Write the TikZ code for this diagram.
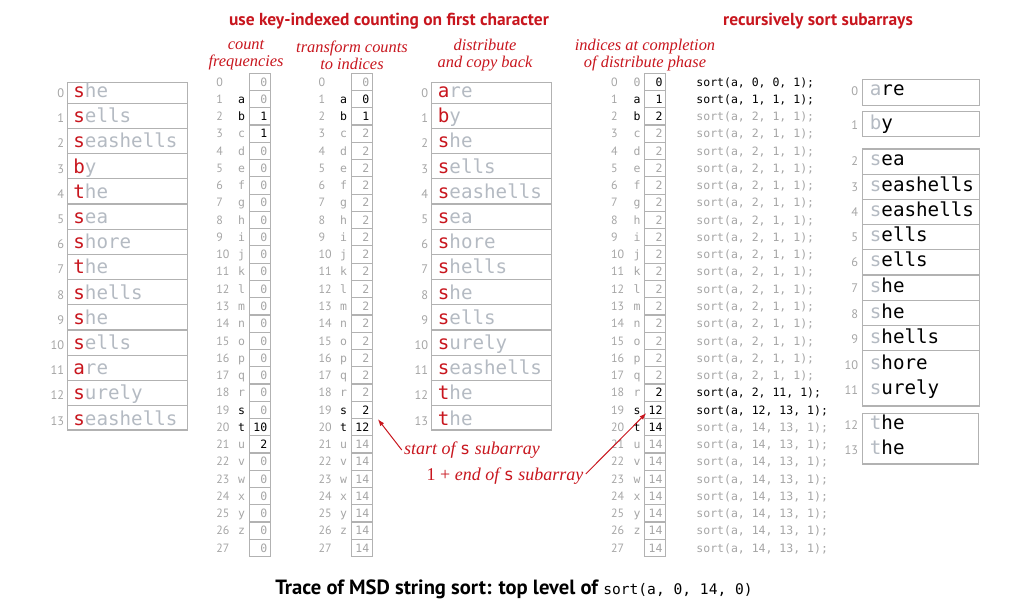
\documentclass[tikz,border=0pt]{standalone}
\usepackage{fontspec}
\setmainfont{Liberation Serif}
\setsansfont{PT Sans}
\setmonofont{DejaVu Sans Mono}
\usetikzlibrary{arrows.meta}

\definecolor{msdred}{RGB}{200,22,30}
\definecolor{fadegray}{RGB}{180,186,194}
\definecolor{idxgray}{RGB}{165,165,165}
\definecolor{boxgray}{RGB}{178,178,178}
\colorlet{gy}{idxgray}
\colorlet{bk}{black}

\tikzset{
  title/.style={font=\sffamily\bfseries\fontsize{8.7}{10}\selectfont, text=msdred, inner sep=0pt},
  colhead/.style={font=\itshape\fontsize{8.2}{8.5}\selectfont, text=msdred, align=center, inner sep=0pt},
  word/.style={font=\ttfamily\fontsize{9.6}{11}\selectfont, anchor=base west, inner sep=0pt},
  aidx/.style={font=\sffamily\fontsize{6.2}{7}\selectfont, text=idxgray, anchor=base east, inner sep=0pt},
  keycell/.style={draw=boxgray, line width=0.6pt, minimum width=10.5pt, minimum height=8.63pt,
    inner sep=0pt, text width=7.5pt, align=right, text height=4.2pt, text depth=0pt,
    font=\ttfamily\fontsize{5.75}{6}\selectfont},
  keyidx/.style={font=\sffamily\fontsize{6}{7}\selectfont, text=idxgray, anchor=west, inner sep=0pt,
    text height=4.2pt, text depth=0pt},
  keyltr/.style={font=\ttfamily\fontsize{5.75}{6}\selectfont, inner sep=0pt, text height=4.2pt, text depth=0pt},
  call/.style={font=\ttfamily\fontsize{5.75}{6}\selectfont, anchor=west, inner sep=0pt,
    text height=4.2pt, text depth=0pt},
  frame/.style={draw=boxgray, line width=0.6pt},
  note/.style={font=\itshape\fontsize{9}{10}\selectfont, text=msdred, inner sep=1pt},
  pointer/.style={draw=msdred, line width=0.5pt, -{Latex[length=3.5pt,width=2.4pt]}},
  caption/.style={font=\sffamily\bfseries\fontsize{10.3}{12}\selectfont, inner sep=0pt},
}

\begin{document}
\begin{tikzpicture}[x=0.5pt, y=-0.5pt]
  \useasboundingbox (0,0) rectangle (1018,613);

  % ==== TITLES ====
  \node[title] (ttlKey) at (389,21) {use key-indexed counting on first character};
  \node[title] (ttlRec) at (818,21) {recursively sort subarrays};

  % ==== COLUMN HEADINGS ====
  \node[colhead] (hCount) at (246,55.5) {count\\frequencies};
  \node[colhead] (hTrans) at (352,55.5) {transform counts\\to indices};
  \node[colhead] (hDist) at (485,55.5) {distribute\\and copy back};
  \node[colhead] (hInd) at (645,55.5) {indices at completion\\of distribute phase};

  % ==== INPUT ARRAY ====
  \draw[frame] (67.3,82.3) rectangle (187.3,430);
  \foreach \k in {0,...,12} \draw[frame] (67.3,103.3+25.2*\k) -- (187.3,103.3+25.2*\k);
  \foreach \fc/\rs [count=\i from 0] in {s/he, s/ells, s/eashells, b/y, t/he, s/ea, s/hore,
      t/he, s/hells, s/he, s/ells, a/re, s/urely, s/eashells} {
    \node[word] (in\i) at (73,97.5+25.2*\i) {\textcolor{msdred}{\fc}\textcolor{fadegray}{\rs}};
    \node[aidx] (inx\i) at (64.5,97.5+25.2*\i) {\i};
  }

  % ==== COUNT FREQUENCIES ====
  \foreach \ch/\v/\lc/\vc [count=\i from 0] in {{}/0/gy/gy, a/0/bk/gy, b/1/bk/bk, c/1/gy/bk,
      d/0/gy/gy, e/0/gy/gy, f/0/gy/gy, g/0/gy/gy, h/0/gy/gy, i/0/gy/gy, j/0/gy/gy, k/0/gy/gy,
      l/0/gy/gy, m/0/gy/gy, n/0/gy/gy, o/0/gy/gy, p/0/gy/gy, q/0/gy/gy, r/0/gy/gy, s/0/bk/gy,
      t/10/bk/bk, u/2/gy/bk, v/0/gy/gy, w/0/gy/gy, x/0/gy/gy, y/0/gy/gy, z/0/gy/gy, {}/0/gy/gy} {
    \node[keycell] (c\i) at (259.7,81.93+17.26*\i) {\textcolor{\vc}{\v}};
    \node[keyidx] (ci\i) at (216,81.93+17.26*\i) {\i};
    \node[keyltr, text=\lc] (cl\i) at (241.7,81.93+17.26*\i) {\ch};
  }

  % ==== TRANSFORM COUNTS TO INDICES ====
  \foreach \ch/\v/\lc/\vc [count=\i from 0] in {{}/0/gy/gy, a/0/bk/bk, b/1/bk/bk, c/2/gy/gy,
      d/2/gy/gy, e/2/gy/gy, f/2/gy/gy, g/2/gy/gy, h/2/gy/gy, i/2/gy/gy, j/2/gy/gy, k/2/gy/gy,
      l/2/gy/gy, m/2/gy/gy, n/2/gy/gy, o/2/gy/gy, p/2/gy/gy, q/2/gy/gy, r/2/gy/gy, s/2/bk/bk,
      t/12/bk/bk, u/14/gy/gy, v/14/gy/gy, w/14/gy/gy, x/14/gy/gy, y/14/gy/gy, z/14/gy/gy, {}/14/gy/gy} {
    \node[keycell] (t\i) at (361.7,81.93+17.26*\i) {\textcolor{\vc}{\v}};
    \node[keyidx] (ti\i) at (318.2,81.93+17.26*\i) {\i};
    \node[keyltr, text=\lc] (tl\i) at (343.5,81.93+17.26*\i) {\ch};
  }

  % ==== DISTRIBUTE AND COPY BACK ====
  \draw[frame] (431.7,82.3) rectangle (551.7,430);
  \foreach \k in {0,...,12} \draw[frame] (431.7,103.3+25.2*\k) -- (551.7,103.3+25.2*\k);
  \foreach \fc/\rs [count=\i from 0] in {a/re, b/y, s/he, s/ells, s/eashells, s/ea, s/hore,
      s/hells, s/he, s/ells, s/urely, s/eashells, t/he, t/he} {
    \node[word] (aux\i) at (437.5,97.5+25.2*\i) {\textcolor{msdred}{\fc}\textcolor{fadegray}{\rs}};
    \node[aidx] (auxx\i) at (428.5,97.5+25.2*\i) {\i};
  }

  % ==== INDICES AFTER DISTRIBUTE ====
  \foreach \ch/\v/\lc/\vc [count=\i from 0] in {0/0/gy/bk, a/1/bk/bk, b/2/bk/bk, c/2/gy/gy,
      d/2/gy/gy, e/2/gy/gy, f/2/gy/gy, g/2/gy/gy, h/2/gy/gy, i/2/gy/gy, j/2/gy/gy, k/2/gy/gy,
      l/2/gy/gy, m/2/gy/gy, n/2/gy/gy, o/2/gy/gy, p/2/gy/gy, q/2/gy/gy, r/2/gy/bk, s/12/bk/bk,
      t/14/bk/bk, u/14/gy/gy, v/14/gy/gy, w/14/gy/gy, x/14/gy/gy, y/14/gy/gy, z/14/gy/gy, {}/14/gy/gy} {
    \node[keycell] (d\i) at (655,81.93+17.26*\i) {\textcolor{\vc}{\v}};
    \node[keyidx] (di\i) at (610.8,81.93+17.26*\i) {\i};
    \node[keyltr, text=\lc] (dl\i) at (637,81.93+17.26*\i) {\ch};
  }

  % ==== RECURSIVE CALLS ====
  \foreach \lo/\hi/\cc [count=\i from 0] in {0/0/bk, 1/1/bk, 2/1/gy, 2/1/gy, 2/1/gy, 2/1/gy,
      2/1/gy, 2/1/gy, 2/1/gy, 2/1/gy, 2/1/gy, 2/1/gy, 2/1/gy, 2/1/gy, 2/1/gy, 2/1/gy, 2/1/gy,
      2/1/gy, 2/11/bk, 12/13/bk, 14/13/gy, 14/13/gy, 14/13/gy, 14/13/gy, 14/13/gy, 14/13/gy,
      14/13/gy, 14/13/gy} {
    \node[call, text=\cc] (call\i) at (696,81.93+17.26*\i) {sort(a, \lo, \hi, 1);};
  }

  % ==== SORTED SUBARRAYS ====
  \draw[frame] (862.3,79.3) rectangle (979.3,105.7);
  \draw[frame] (862.3,111.7) rectangle (979.3,136.7);
  \draw[frame] (862.3,149) rectangle (979.3,406);
  \foreach \yl in {174.2,199.4,224.6,249.8,275,300.2,325.4,350.6} \draw[frame] (862.3,\yl) -- (979.3,\yl);
  \draw[frame] (862.3,413.3) rectangle (978.3,464);
  \foreach \fc/\rs/\yb [count=\i from 0] in {a/re/96, b/y/130, s/ea/165.7, s/eashells/191.2,
      s/eashells/216.5, s/ells/241.7, s/ells/267, s/he/293, s/he/318.3, s/hells/343.3,
      s/hore/369.3, s/urely/395, t/he/430, t/he/455} {
    \node[word] (out\i) at (869.5,\yb) {\textcolor{fadegray}{\fc}\textcolor{black}{\rs}};
    \node[aidx] (outx\i) at (858.5,\yb) {\i};
  }

  % ==== NOTES ====
  \node[note] (noteStart) at (472,450) {start of {\fontsize{8.4}{10}\selectfont\ttfamily\upshape s} subarray};
  \node[note] (noteEnd) at (505,476) {{\upshape 1 + }end of {\fontsize{8.4}{10}\selectfont\ttfamily\upshape s} subarray};
  \draw[pointer] (noteStart.west) -- ([xshift=2.5pt]t19.south east);
  \draw[pointer] ([yshift=1pt]noteEnd.east) -- ([xshift=1.2pt,yshift=-1.6pt]d19.west);

  % ==== CAPTION ====
  \node[caption] (cap) at (514,589) {Trace of MSD string sort: top level of
    {\fontsize{7.3}{9}\selectfont\ttfamily\mdseries sort(a, 0, 14, 0)}};
\end{tikzpicture}
\end{document}
